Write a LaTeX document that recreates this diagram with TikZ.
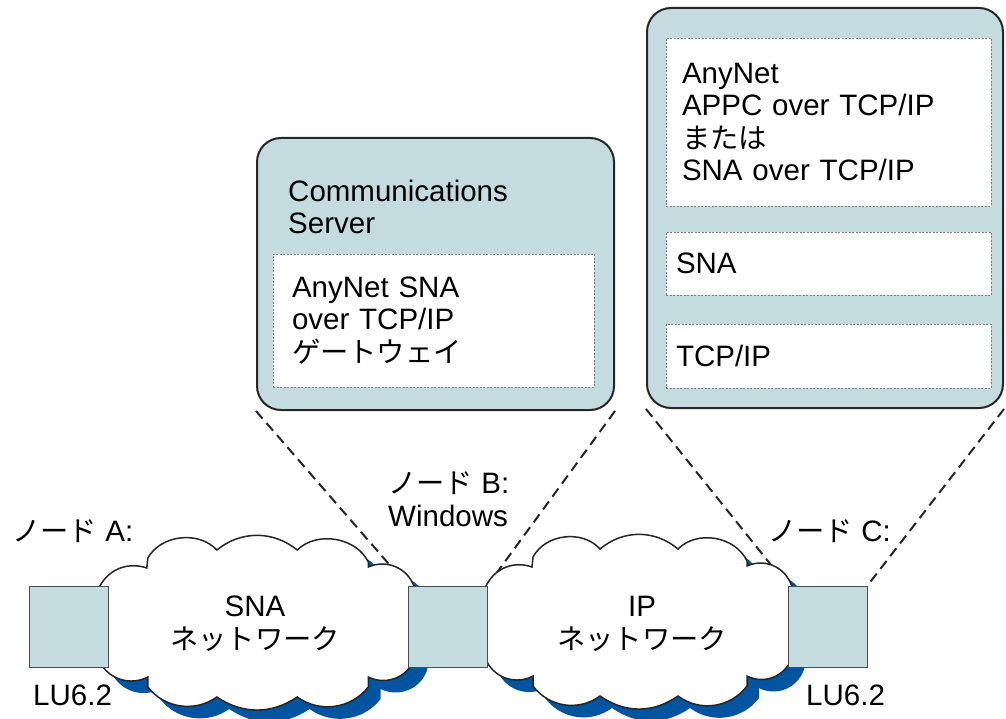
\documentclass[tikz,border=0pt]{standalone}
\usepackage{fontspec}
\setmainfont{Liberation Sans}
\newfontfamily\jp[Scale=0.96]{Noto Sans CJK JP}
\usetikzlibrary{positioning,backgrounds}
\definecolor{boxfill}{HTML}{C4DCE0}
\definecolor{netblue}{HTML}{0054A0}
% outline of a network cloud, around (0,0)
\newcommand\netoutline{(-151,36) to[bend left=30] (-151,16) to[bend left=30] (-151,-22) to[bend left=30] (-151,-42)
  to[bend left=40] (-106,-59) -- (-105,-69) to[bend left=55] (-38,-77) to[bend left=40] (40,-77)
  to[bend left=55] (109,-65) -- (109,-60) to[bend left=45] (152,-44)
  to[bend left=30] (152,-22) to[bend left=30] (152,16) to[bend left=30] (152,36)
  to[bend left=45] (109,50) -- (109,60) to[bend left=45] (40,70) to[bend left=35] (-38,70)
  to[bend left=45] (-105,60) -- (-105,50) to[bend left=45] cycle}

\begin{document}
\begin{tikzpicture}[x=1pt,y=-1pt,font=\fontsize{29.5}{32.5}\selectfont,
  lubox/.style={draw=black!70,fill=boxfill,line width=1pt,minimum width=79pt,minimum height=81pt,inner sep=0pt},
  server/.style={draw=black!85,fill=boxfill,line width=2pt,rounded corners=24pt,inner sep=0pt},
  layer/.style={draw=black!50,fill=white,line width=0.8pt,dash pattern=on 2pt off 1.5pt,align=left,inner ysep=0pt},
  netline/.style={draw=black!85,fill=white,line width=1.5pt},
  nettext/.style={inner sep=0pt,align=center},
  link/.style={black!85,line width=2pt,dash pattern=on 10pt off 6pt},
  lbl/.style={inner sep=0pt,anchor=base west,align=left}]
\useasboundingbox (0,0) rectangle (1006,719);

% node B: gateway
\node[server,minimum width=357pt,minimum height=272pt] (srvB) at (435.5,274) {};
\node[lbl] (srvBname) at (288,234) {Communications\\Server};
\node[layer,text width=283pt,inner xsep=19pt,minimum height=133pt] (gw) at (433.5,320.5) {AnyNet SNA\\over TCP/IP\\{\jp ゲートウェイ}};

% node C: stack
\node[server,minimum width=356pt,minimum height=400pt] (srvC) at (825,208) {};
\node[layer,text width=293pt,inner xsep=16pt,minimum height=168pt] (appc) at (828.5,122) {AnyNet\\APPC over TCP/IP\\{\jp または}\\SNA over TCP/IP};
\node[layer,text width=305pt,inner xsep=10pt,minimum height=63pt] (sna) at (828.5,263.5) {SNA};
\node[layer,text width=305pt,inner xsep=10pt,minimum height=64pt] (tcp) at (828.5,356) {TCP/IP};

% networks
\foreach \x/\y/\s in {256/627/1.03,638/626/1} {
  \begin{scope}[shift={(\x,\y)},xscale=\s]
    \fill[netblue,shift={(12,12)}] \netoutline;
    \path[netline] \netoutline;
  \end{scope}
}
\node[nettext] (snanet) at (255,624) {SNA\\{\jp ネットワーク}};
\node[nettext] (ipnet) at (642,624) {IP\\{\jp ネットワーク}};

\foreach \n/\x in {A/69,B/447.5,C/827.5} {
  \node[lubox] (node\n) at (\x,626.5) {};
}

% labels
\node[lbl] (labA) at (12,541) {{\jp ノード} A:};
\node[lbl] (labB) at (388,526) {{\jp ノード} B:\\Windows};
\node[lbl] (labC) at (768,541) {{\jp ノード} C:};
\node[lbl] (luA) at (33,705) {LU6.2};
\node[lbl] (luC) at (806,705) {LU6.2};

\begin{scope}[on background layer]
\foreach \s/\n in {srvB/nodeB,srvC/nodeC} {
  \draw[link] (\s.south west) -- (\n.north west);
  \draw[link] (\s.south east) -- (\n.north east);
}
\end{scope}
\end{tikzpicture}
\end{document}
